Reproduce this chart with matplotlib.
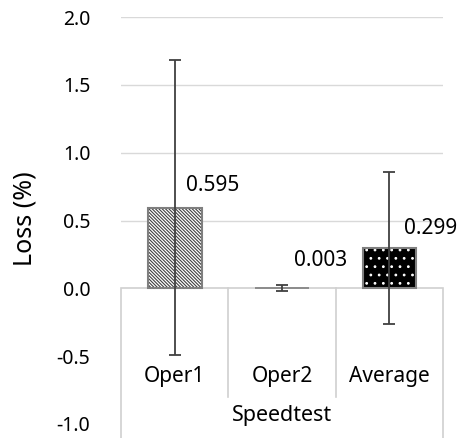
import matplotlib
matplotlib.use("Agg")
import matplotlib.pyplot as plt
from matplotlib.patches import Rectangle

categories = ["Oper1", "Oper2", "Average"]
loss = [0.595, 0.003, 0.299]
err = [1.09, 0.025, 0.56]
labels = ["0.595", "0.003", "0.299"]
group_label = "Speedtest"
yticks = [-1.0, -0.5, 0.0, 0.5, 1.0, 1.5, 2.0]

plt.rcParams["font.family"] = ["Noto Sans", "DejaVu Sans"]
plt.rcParams["hatch.linewidth"] = 0.8

fig = plt.figure(figsize=(4.62, 4.38), dpi=100)
ax = fig.add_axes([0.262, 0.032, 0.697, 0.929])

x = list(range(len(categories)))
ax.set_xlim(-0.5, 2.5)
ax.set_ylim(-1.0, 2.0)

# gridlines (only visible above zero; the category box covers the rest)
for t in yticks:
    if t > 0:
        ax.axhline(t, color="#d9d9d9", lw=1, zorder=0)

# category box below zero (Excel multi-level axis)
box = Rectangle((-0.5, -1.11), 3.0, 1.11, facecolor="white", edgecolor="#d0d0d0",
                lw=1.2, zorder=1, clip_on=False)
ax.add_patch(box)
for sep in [0.5, 1.5]:
    ax.plot([sep, sep], [0, -0.8], color="#d0d0d0", lw=1.2, zorder=1, clip_on=False)

# bars
w = 0.5
ax.bar(x[0], loss[0], width=w, facecolor="white", edgecolor="#404040",
       hatch="\\" * 10, lw=0, zorder=2)
ax.bar(x[0], loss[0], width=w, facecolor="none", edgecolor="#7f7f7f", lw=1.5, zorder=3)
ax.bar(x[1], loss[1], width=w, facecolor="white", edgecolor="#7f7f7f", lw=1.2, zorder=3)
ax.bar(x[2], loss[2], width=w, facecolor="black", edgecolor="white",
       hatch="..", lw=0, zorder=2)
ax.bar(x[2], loss[2], width=w, facecolor="none", edgecolor="#7f7f7f", lw=1.5, zorder=3)

ax.errorbar(x, loss, yerr=err, fmt="none", ecolor="#404040", elinewidth=1.3,
            capsize=4.5, capthick=1.3, zorder=4, clip_on=False)

# data labels
offsets = [(27, 16), (28, 20), (30, 14)]
for xi, v, lab, off in zip(x, loss, labels, offsets):
    ax.annotate(lab, (xi, v), xytext=off, textcoords="offset points",
                ha="center", va="center", fontsize=15, color="black", zorder=5)

# category labels
for xi, c in zip(x, categories):
    ax.text(xi, -0.65, c, ha="center", va="center", fontsize=15, zorder=5)
ax.text(1.0, -0.94, group_label, ha="center", va="center", fontsize=15.5, zorder=5)

ax.set_yticks(yticks)
ax.set_yticklabels([f"{t:.1f}" for t in yticks], fontsize=14)
ax.tick_params(axis="y", length=0, pad=22)
ax.set_xticks([])
for s in ax.spines.values():
    s.set_visible(False)

ax.set_ylabel("Loss (%)", fontsize=18)
ax.yaxis.set_label_coords(-0.26, 0.505)

fig.savefig("out.png", dpi=100)
